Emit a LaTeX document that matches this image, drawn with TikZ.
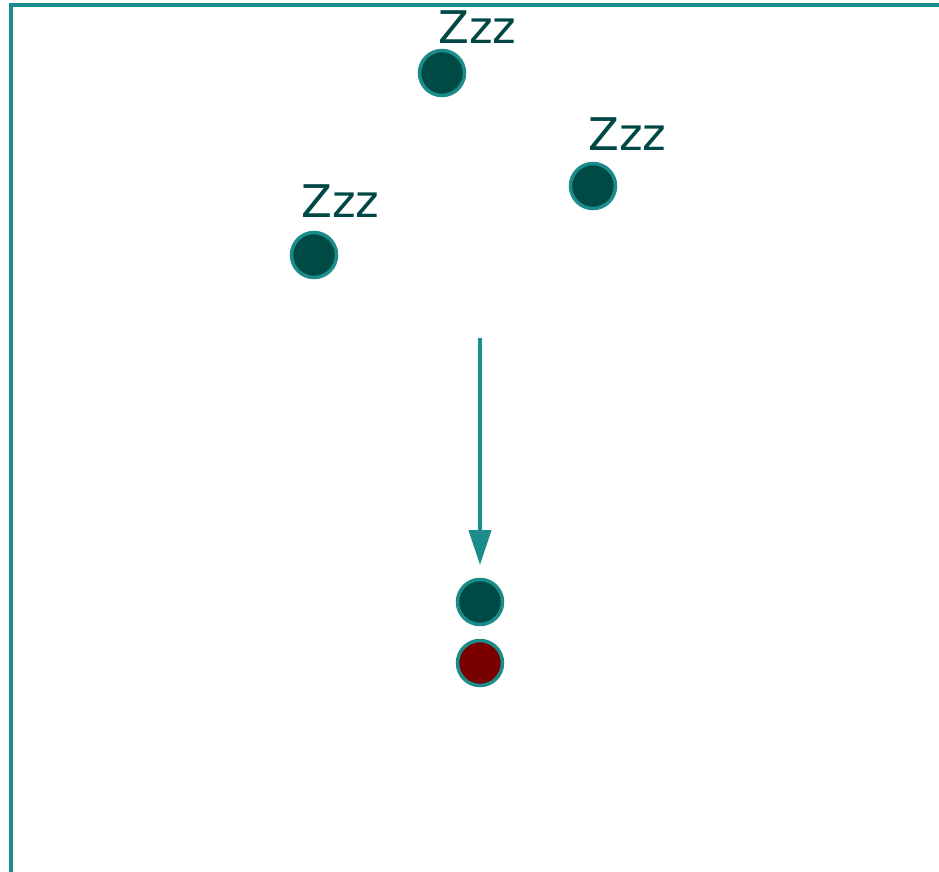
\documentclass[tikz,border=0pt]{standalone}
\usepackage{fontspec}
\setmainfont{DejaVu Sans}
\usetikzlibrary{arrows.meta}
\definecolor{sleepfill}{HTML}{004A46}
\definecolor{sleepline}{HTML}{1B8C89}
\definecolor{wakefill}{HTML}{7A0000}
\definecolor{zzztext}{HTML}{004845}
\tikzset{
  sleeper/.style={circle, draw=sleepline, fill=sleepfill, line width=3.5pt, minimum size=45pt, inner sep=0pt},
  waker/.style={sleeper, fill=wakefill},
  zzz/.style={anchor=base west, inner sep=0pt, text=zzztext, font=\fontsize{45pt}{45pt}\selectfont}
}
\begin{document}
\begin{tikzpicture}[x=1pt, y=-1pt]
      \useasboundingbox (0,0) rectangle (939,872);
      \draw[sleepline, line width=3.5pt] (11,872) -- (11,5) -- (939,5);

      % sleeping threads
      \node[sleeper] (s1) at (442,73) {};  \node[zzz] (z1) at (438,44) {Zzz};
      \node[sleeper] (s2) at (593,186) {}; \node[zzz] (z2) at (588,150) {Zzz};
      \node[sleeper] (s3) at (314,255) {}; \node[zzz] (z3) at (301,217) {Zzz};

      % wake up
      \coordinate (from) at (480,338);
      \coordinate (to) at (480,565);
      \draw[sleepline, line width=4.5pt, -{Triangle[width=22pt, length=35pt]}] (from) -- (to);

      \node[sleeper] (t1) at (480,602) {};
      \node[waker] (t2) at (480,663) {};
\end{tikzpicture}
\end{document}
